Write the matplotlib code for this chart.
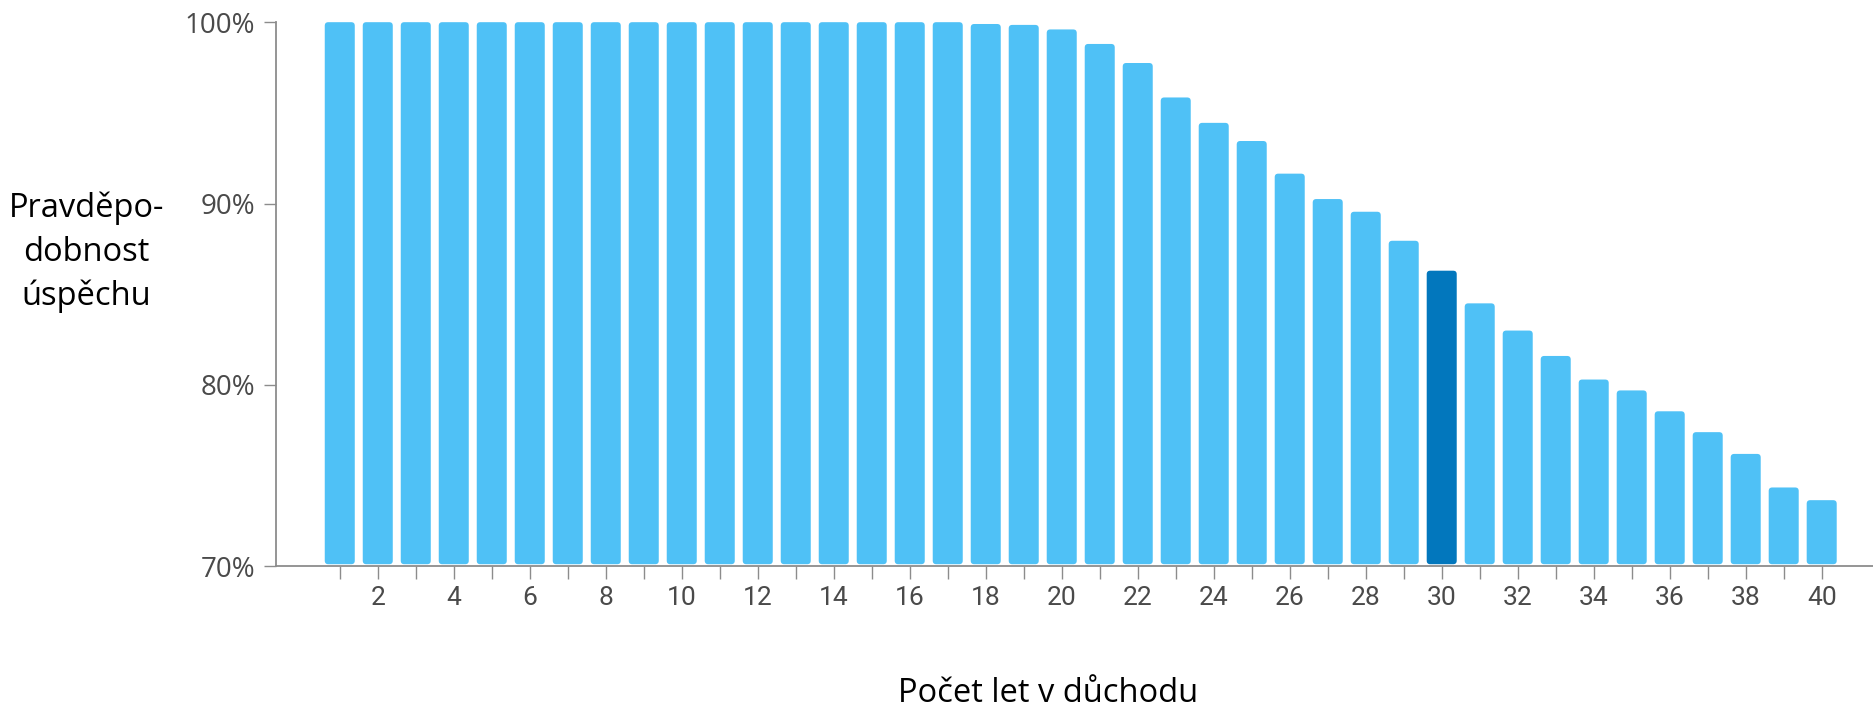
import matplotlib
matplotlib.use("Agg")
import matplotlib.pyplot as plt
from matplotlib.patches import FancyBboxPatch
import numpy as np

# Probability of success (%) by number of years in retirement
years = list(range(1, 41))
success = [100, 100, 100, 100, 100, 100, 100, 100, 100, 100,
           100, 100, 100, 100, 100, 100, 100, 99.9, 99.85, 99.6,
           98.8, 97.75, 95.85, 94.45, 93.45, 91.65, 90.25, 89.55, 87.95, 86.3,
           84.5, 83.0, 81.6, 80.3, 79.7, 78.55, 77.4, 76.2, 74.35, 73.65]
highlight_year = 30

ytick_values = [70, 80, 90, 100]
ytick_labels = ["70%", "80%", "90%", "100%"]
xtick_labels = [str(y) if y % 2 == 0 else "" for y in years]

y_label = "Pravděpo-\ndobnost\núspěchu"
x_label = "Počet let v důchodu"

LIGHT = "#4fc1f6"
DARK = "#0277bd"
AXIS_GREY = "#8c8c8c"
TICK_TEXT = "#4a4a4a"

W, H, DPI = 1873, 711, 100
fig = plt.figure(figsize=(W / DPI, H / DPI), dpi=DPI)
ax = fig.add_axes([0.1474, 0.2034, 0.8526, 0.7654])

ax.set_xlim(-0.676, 41.35)
ax.set_ylim(70, 100)

# data units per pixel, used to keep the corner rounding circular
x_per_px = (41.35 + 0.676) / (0.8526 * W)
y_per_px = 30 / (0.7654 * H)
aspect = y_per_px / x_per_px

bar_w = 0.79
base = 70.12
radius = 3.5 * x_per_px
for yr, val in zip(years, success):
    color = DARK if yr == highlight_year else LIGHT
    patch = FancyBboxPatch((yr - bar_w / 2, base), bar_w, val - base,
                           boxstyle=f"round,pad=0,rounding_size={radius}",
                           mutation_aspect=aspect, facecolor=color,
                           edgecolor="none", zorder=2)
    ax.add_patch(patch)

for side in ("top", "right"):
    ax.spines[side].set_visible(False)
for side in ("left", "bottom"):
    ax.spines[side].set_color(AXIS_GREY)
    ax.spines[side].set_linewidth(1.3)
    ax.spines[side].set_zorder(3)

ax.set_yticks(ytick_values)
ax.set_yticklabels(ytick_labels, fontfamily="Open Sans", fontsize=20, color=TICK_TEXT)
ax.tick_params(axis="y", length=9, width=1.0, color=AXIS_GREY, pad=6)

ax.set_xticks(years)
ax.set_xticklabels(xtick_labels, fontfamily="Roboto", fontsize=19, color=TICK_TEXT)
ax.tick_params(axis="x", length=9, width=1.0, color=AXIS_GREY, pad=5)

fig.text(0.046, 0.645, y_label, ha="center", va="center", fontfamily="Open Sans",
         fontsize=23.5, color="black", linespacing=1.42)
fig.text(0.5595, 0.012, x_label, ha="center", va="baseline", fontfamily="Open Sans",
         fontsize=23.5, color="black")

fig.savefig("out.png", dpi=DPI, facecolor="white")
